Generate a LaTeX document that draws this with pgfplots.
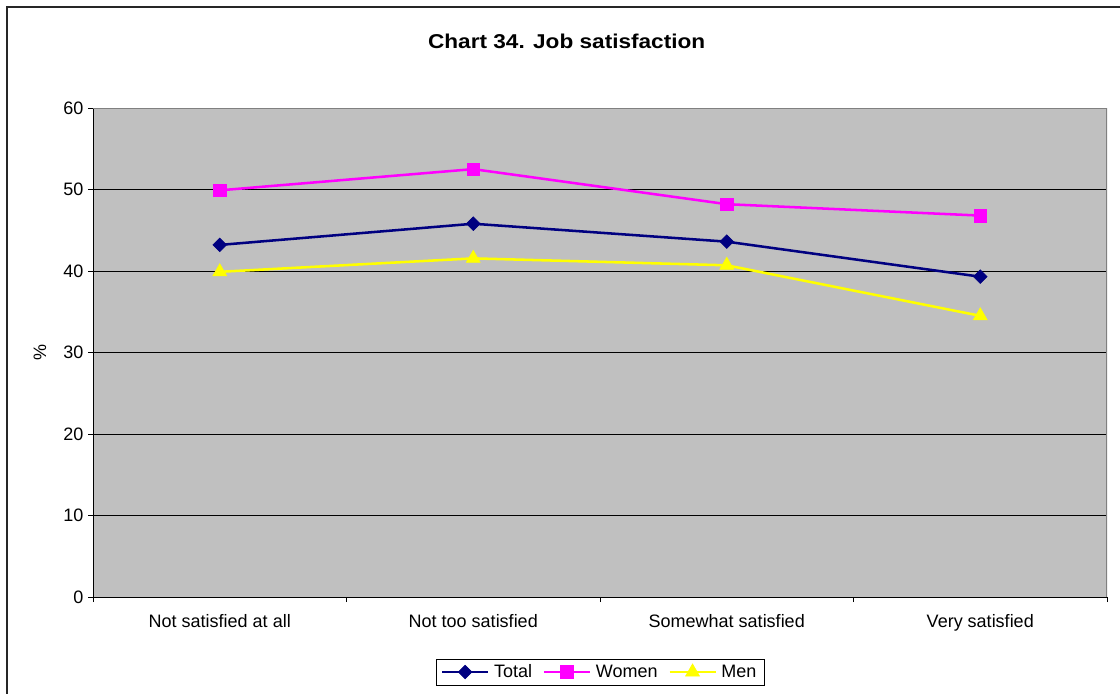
\documentclass[border=0pt]{standalone}
\usepackage{pgfplots}
\pgfplotsset{compat=1.18}
\usepackage{fontspec}
\setmainfont{Liberation Sans}
\definecolor{bgc}{HTML}{C0C0C0}
\definecolor{navyc}{HTML}{000080}
\definecolor{magc}{HTML}{FF00FF}
\definecolor{yelc}{HTML}{FFFF00}
\definecolor{frameg}{HTML}{808080}
\begin{document}
\begin{tikzpicture}[x=1pt,y=1pt]
\useasboundingbox (0,0) rectangle (840,519.75);
\fill[white] (0,0) rectangle (840,519.75);
\draw[line width=1.5pt, black!85] (5.25,-20) -- (5.25,514.5) -- (860,514.5);
\node[font=\fontsize{15}{18}\selectfont\bfseries] at (425,489) {\scalebox{1.13}[1]{Chart 34. Job satisfaction}};
\node[rotate=90, font=\fontsize{13.5}{16}\selectfont] at (30,255.75) {\%};
\begin{axis}[
  at={(69.75pt,72pt)}, anchor=south west,
  scale only axis, width=760.5pt, height=366.75pt,
  xmin=-0.5, xmax=3.5, ymin=0, ymax=60,
  axis background/.style={fill=bgc},
  axis x line*=bottom, axis y line*=left,
  axis line style={black, line width=0.75pt},
  xtick={0,1,2,3},
  xticklabels={Not satisfied at all, Not too satisfied, Somewhat satisfied, Very satisfied},
  xticklabel style={yshift=-6pt},
  minor xtick={-0.5,0.5,1.5,2.5,3.5},
  ytick={0,10,...,60},
  ymajorgrids, grid style={black, line width=0.6pt},
  tick align=outside,
  major tick length=3.75pt, minor tick length=3.75pt,
  tick style={black, line width=0.75pt},
  major x tick style={draw=none},
  tick label style={font=\fontsize{13.5}{16}\selectfont},
  /pgf/number format/assume math mode=true,
  legend style={at={(0.5,-0.1534)}, anchor=center, draw=black, font=\fontsize{13.5}{16}\selectfont,
    /tikz/every even column/.append style={column sep=6pt},
    /tikz/every odd column/.append style={column sep=1.5pt}, inner xsep=3.5pt, inner ysep=2pt},
  legend columns=3,
  legend image code/.code={\draw[mark repeat=2,mark phase=2,#1] plot coordinates {(0pt,0pt) (17.25pt,0pt) (34.5pt,0pt)};},
]
\addplot[navyc, line width=1.9pt, mark=square*, mark size=3.6pt, mark options={rotate=45, fill=navyc, line width=0.5pt}]
  coordinates {(0,43.2) (1,45.8) (2,43.6) (3,39.3)};
\addlegendentry{Total}
\addplot[magc, line width=1.9pt, mark=square*, mark size=4.7pt, mark options={fill=magc, line width=0.5pt}]
  coordinates {(0,49.9) (1,52.5) (2,48.2) (3,46.8)};
\addlegendentry{Women}
\addplot[yelc, line width=1.9pt, mark=triangle*, mark size=6pt, mark options={fill=yelc, line width=0.5pt}]
  coordinates {(0,39.9) (1,41.55) (2,40.7) (3,34.5)};
\addlegendentry{Men}
\draw[frameg, line width=1.5pt] (rel axis cs:0,1) -- (rel axis cs:1,1) -- (rel axis cs:1,0);
\end{axis}
\end{tikzpicture}
\end{document}
